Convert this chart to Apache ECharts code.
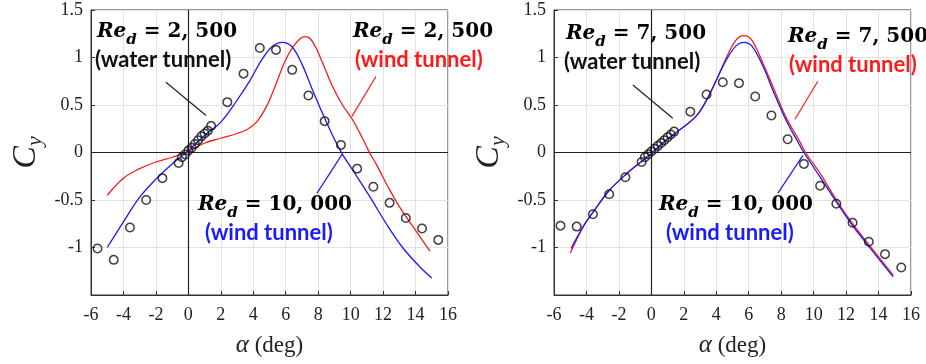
<!DOCTYPE html>
<html>
<head>
<meta charset="utf-8">
<script src="https://cdn.jsdelivr.net/npm/echarts@6/dist/echarts.min.js"></script>
<style>
  html, body { margin: 0; padding: 0; background: #fff; }
  #chart { width: 926px; height: 364px; }
</style>
</head>
<body>
<div id="chart"></div>
<script>
// Angles of attack for the water-tunnel measurements (deg)
const alphaWater = [-5.6, -4.6, -3.6, -2.6, -1.6, -0.6, -0.4, -0.2, 0, 0.2, 0.4, 0.6, 0.8, 1.0, 1.2, 1.4,
  2.4, 3.4, 4.4, 5.4, 6.4, 7.4, 8.4, 9.4, 10.4, 11.4, 12.4, 13.4, 14.4, 15.4];
// Water tunnel, Re_d = 2,500
const cyWater2500 = [-1.01, -1.13, -0.79, -0.50, -0.27, -0.11, -0.05, -0.02, 0.02, 0.05, 0.09, 0.13, 0.17, 0.20, 0.23, 0.28,
  0.53, 0.83, 1.10, 1.08, 0.87, 0.60, 0.33, 0.08, -0.17, -0.36, -0.53, -0.69, -0.80, -0.92];
// Water tunnel, Re_d = 7,500
const cyWater7500 = [-0.77, -0.78, -0.65, -0.44, -0.26, -0.10, -0.05, -0.02, 0.01, 0.04, 0.07, 0.10, 0.13, 0.16, 0.19, 0.22,
  0.43, 0.61, 0.74, 0.73, 0.59, 0.39, 0.14, -0.12, -0.35, -0.54, -0.74, -0.94, -1.07, -1.21];

// Wind tunnel, Re_d = 10,000 (left panel)
const alphaWind10kA = [-5, -4, -3, -2, -1, 0, 1, 2, 3, 3.8, 4.5, 5.2, 5.8, 6.4, 7, 7.6, 8.3, 9, 9.5, 10.3, 11.2, 12.2, 13.2, 14.3, 15];
const cyWind10kA = [-1.0, -0.73, -0.47, -0.28, -0.12, 0.02, 0.18, 0.32, 0.55, 0.76, 0.97, 1.12, 1.16, 1.11, 0.93, 0.68, 0.40, 0.14, -0.02, -0.23, -0.47, -0.75, -1.0, -1.21, -1.32];
// Wind tunnel, Re_d = 2,500
const alphaWind2500 = [-5, -4, -3, -2, -1, 0, 1, 2, 3, 3.6, 4.2, 4.8, 5.4, 5.9, 6.4, 6.9, 7.2, 7.5, 7.9, 8.4, 8.9, 9.5, 10.1, 10.7, 11.1, 11.6, 12.3, 13, 14, 14.9];
const cyWind2500 = [-0.45, -0.27, -0.17, -0.10, -0.05, 0.01, 0.10, 0.15, 0.20, 0.24, 0.32, 0.48, 0.72, 0.94, 1.10, 1.20, 1.22, 1.20, 1.09, 0.89, 0.69, 0.50, 0.35, 0.16, 0.02, -0.13, -0.36, -0.57, -0.82, -1.04];
// Wind tunnel, Re_d = 10,000 (right panel)
const alphaWind10kB = [-4.95, -4.2, -3.6, -2.6, -1.5, -0.5, 0, 0.9, 2, 2.8, 3.4, 4, 4.6, 5.2, 5.7, 6.2, 6.9, 7.5, 8.3, 9.1, 9.4, 10.4, 11.4, 12.4, 13.5, 14.9];
const cyWind10kB = [-1.01, -0.78, -0.63, -0.40, -0.22, -0.08, -0.01, 0.13, 0.27, 0.39, 0.55, 0.76, 0.97, 1.12, 1.16, 1.12, 0.90, 0.65, 0.34, 0.09, 0.0, -0.26, -0.52, -0.77, -1.01, -1.31];
// Wind tunnel, Re_d = 7,500
const alphaWind7500 = [-5, -4.2, -3.6, -2.6, -1.5, -0.5, 0, 0.9, 2, 2.8, 3.4, 4, 4.6, 5.2, 5.7, 6.2, 6.9, 7.5, 8.3, 9.1, 9.5, 10.4, 11.4, 12.4, 13.5, 14.9];
const cyWind7500 = [-1.06, -0.78, -0.63, -0.40, -0.22, -0.08, -0.01, 0.13, 0.27, 0.39, 0.55, 0.76, 0.99, 1.18, 1.23, 1.18, 0.93, 0.69, 0.37, 0.13, 0.0, -0.22, -0.50, -0.75, -0.99, -1.29];

// Axis ticks
const xTicks = { min: -6, max: 16, step: 2 };
const yTicks = { min: -1.5, max: 1.5, step: 0.5 };

// Curve labels: Reynolds number and facility
const labelTexts = [
  ['2, 500', '(water tunnel)'],
  ['2, 500', '(wind tunnel)'],
  ['10, 000', '(wind tunnel)'],
  ['7, 500', '(water tunnel)'],
  ['7, 500', '(wind tunnel)'],
  ['10, 000', '(wind tunnel)']
];

const pair = (xs, ys) => xs.map((x, i) => [x, ys[i]]);

const RED = '#ff1a1a', BLUE = '#1a1aff', BLACK = '#111';
const serif = 'Liberation Serif';

function xAxisFor(gi) {
  return {
    gridIndex: gi, type: 'value', min: xTicks.min, max: xTicks.max, interval: xTicks.step,
    name: '{a|α} (deg)', nameLocation: 'middle', nameGap: 38,
    nameTextStyle: { fontFamily: serif, fontSize: 23, color: '#222',
      rich: { a: { fontFamily: serif, fontStyle: 'italic', fontSize: 25, color: '#222' } } },
    axisLine: { show: true, onZero: false, lineStyle: { color: '#333', width: 1 } },
    axisTick: { show: true, inside: true, length: 4, lineStyle: { color: '#333' } },
    axisLabel: { fontFamily: serif, fontSize: 18, color: '#222', margin: 11 },
    splitLine: { show: true, lineStyle: { color: '#e3e3e3', width: 1 } }
  };
}
function yAxisFor(gi) {
  return {
    gridIndex: gi, type: 'value', min: yTicks.min, max: yTicks.max, interval: yTicks.step,
    name: '{c|C}{s|y}', nameLocation: 'middle', nameGap: 48, nameRotate: 90,
    nameTextStyle: { rich: {
      c: { fontFamily: serif, fontStyle: 'italic', fontSize: 34, color: '#222', verticalAlign: 'top', lineHeight: 34 },
      s: { fontFamily: serif, fontStyle: 'italic', fontSize: 22, color: '#222', verticalAlign: 'top', lineHeight: 22, padding: [15, 0, 0, 0] }
    } },
    axisLine: { show: true, onZero: false, lineStyle: { color: '#333', width: 1 } },
    axisTick: { show: true, inside: true, length: 4, lineStyle: { color: '#333' } },
    axisLabel: { fontFamily: serif, fontSize: 18, color: '#222', margin: 8,
      formatter: v => (Math.abs(v - yTicks.min) < 1e-9 ? '' : String(v)) },
    splitLine: { show: true, lineStyle: { color: '#e3e3e3', width: 1 } }
  };
}

function curve(gi, name, xs, ys, color, leader) {
  return {
    type: 'line', name, xAxisIndex: gi, yAxisIndex: gi, data: pair(xs, ys),
    smooth: 0.35, showSymbol: false, symbol: 'none', z: 3,
    lineStyle: { color, width: 1.3 },
    markLine: {
      silent: true, symbol: 'none', label: { show: false },
      lineStyle: { color, width: 1.2, type: 'solid' },
      data: [[{ coord: leader[0] }, { coord: leader[1] }]]
    }
  };
}
function points(gi, name, ys, leader) {
  return {
    type: 'scatter', name, xAxisIndex: gi, yAxisIndex: gi, data: pair(alphaWater, ys),
    symbol: 'circle', symbolSize: 8.5, z: 4,
    itemStyle: { color: 'rgba(0,0,0,0)', borderColor: '#111', borderWidth: 1.5 },
    markLine: {
      silent: true, symbol: 'none', label: { show: false }, z: 2,
      lineStyle: { color: '#222', width: 1.2, type: 'solid' },
      data: [
        { xAxis: 0 },
        { yAxis: 0 },
        [{ coord: leader[0] }, { coord: leader[1] }]
      ]
    }
  };
}

function reLabel(x, y, value, sub, color, subDx) {
  const main = { fontFamily: 'DejaVu Serif', fontWeight: 'bold', fontSize: 20, color, verticalAlign: 'top', lineHeight: 24 };
  return [
    { type: 'text', left: x, top: y, z: 10, style: {
      text: '{i|Re}{s|d}{n| = ' + value + '}',
      rich: {
        i: Object.assign({}, main, { fontStyle: 'italic' }),
        s: { fontFamily: 'DejaVu Serif', fontStyle: 'italic', fontWeight: 'bold', fontSize: 15, color,
             verticalAlign: 'top', lineHeight: 15, padding: [11, 0, 0, 0] },
        n: main
      } } },
    { type: 'text', left: x + subDx, top: y + 27, z: 10, style: {
      text: sub, fontFamily: 'Lato', fontWeight: 'bold', fontSize: 22, fill: color } }
  ];
}

const chart = echarts.init(document.getElementById('chart'), null, { renderer: 'canvas' });
chart.setOption({
  backgroundColor: '#fff',
  animation: false,
  grid: [
    { left: 91, top: 10, width: 357, height: 285, show: true, borderColor: '#333', borderWidth: 1, backgroundColor: '#fff' },
    { left: 554, top: 10, width: 357, height: 285, show: true, borderColor: '#333', borderWidth: 1, backgroundColor: '#fff' }
  ],
  xAxis: [xAxisFor(0), xAxisFor(1)],
  yAxis: [yAxisFor(0), yAxisFor(1)],
  series: [
    points(0, 'Water tunnel Re 2500', cyWater2500, [[-1.38, 0.74], [1.09, 0.39]]),
    curve(0, 'Wind tunnel Re 2500', alphaWind2500, cyWind2500, RED, [[11.56, 0.80], [10.08, 0.38]]),
    curve(0, 'Wind tunnel Re 10000', alphaWind10kA, cyWind10kA, BLUE, [[7.92, -0.43], [9.47, -0.02]]),
    points(1, 'Water tunnel Re 7500', cyWater7500, [[-1.14, 0.71], [1.32, 0.36]]),
    curve(1, 'Wind tunnel Re 7500', alphaWind7500, cyWind7500, RED, [[10.26, 0.75], [8.85, 0.35]]),
    curve(1, 'Wind tunnel Re 10000', alphaWind10kB, cyWind10kB, BLUE, [[7.79, -0.43], [9.34, -0.03]])
  ],
  graphic: [].concat(
    reLabel(97, 22, labelTexts[0][0], labelTexts[0][1], BLACK, -2),
    reLabel(353, 22, labelTexts[1][0], labelTexts[1][1], RED, 2),
    reLabel(198, 195, labelTexts[2][0], labelTexts[2][1], BLUE, 7),
    reLabel(566, 24, labelTexts[3][0], labelTexts[3][1], BLACK, -2),
    reLabel(788, 27, labelTexts[4][0], labelTexts[4][1], RED, 1),
    reLabel(659, 195, labelTexts[5][0], labelTexts[5][1], BLUE, 7)
  )
});
</script>
</body>
</html>
